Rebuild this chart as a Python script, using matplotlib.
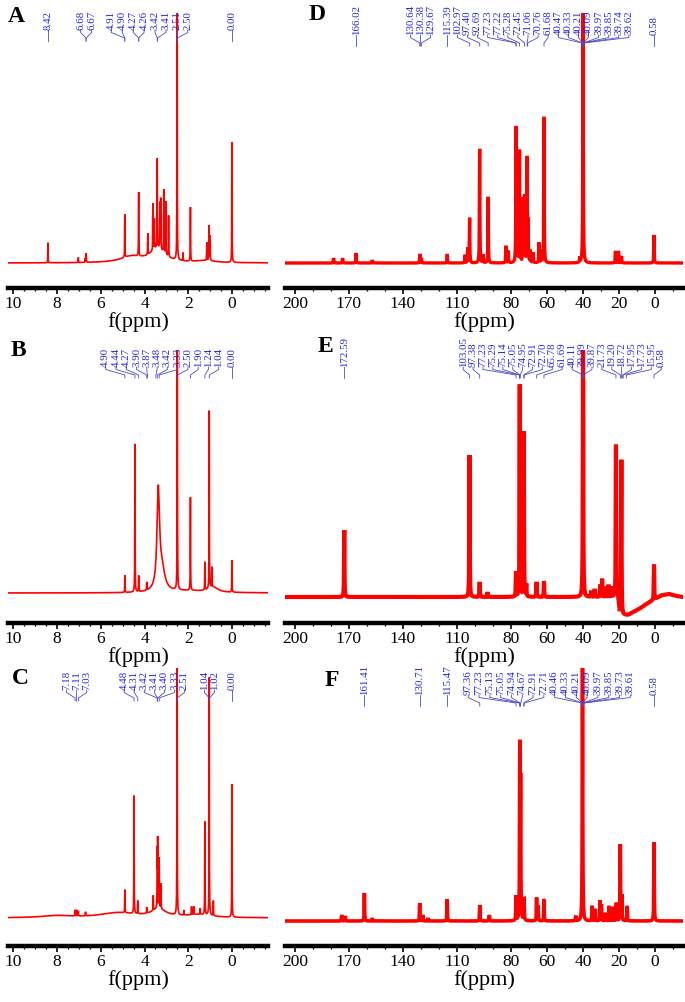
import matplotlib
matplotlib.use("Agg")
import matplotlib.pyplot as plt
import numpy as np
from matplotlib.ticker import FixedLocator, MultipleLocator
from matplotlib.transforms import blended_transform_factory

plt.rcParams["font.family"] = ["Liberation Serif", "Noto Sans CJK SC"]

W, H = 685, 1002

# ---------------- A : 1H ----------------
a_peak_ppm = [8.42, 7.03, 6.72, 6.67, 4.905, 4.27, 3.85, 3.62, 3.55, 3.42, 3.30, 3.26,
              3.12, 3.03, 2.90, 2.51, 2.24, 1.90, 1.15, 1.05, 1.00, 0.00]
a_peak_int = [20, 5, 4, 9, 43, 64, 21, 47, 30, 89, 45, 50, 63, 53, 41, 300, 8, 54, 18, 35, 25, 120]
a_broad_ppm = [4.6, 3.4, 1.2]
a_broad_int = [6, 14, 2]
a_broad_hw = [0.6, 0.4, 0.5]
a_labels = ["8.42", "6.68", "6.67", "4.91", "4.90", "4.27", "4.26", "3.42", "3.41",
            "2.51", "2.50", "0.00"]

# ---------------- B : 1H ----------------
b_peak_ppm = [4.90, 4.44, 4.27, 3.90, 2.50, 1.90, 1.24, 1.04, 0.92, 0.00]
b_peak_int = [17, 148, 16, 8, 300, 93, 28, 178, 20, 32]
b_broad_ppm = [3.37, 3.20, 0.85, 2.0]
b_broad_int = [98, 20, 5, 2]
b_broad_hw = [0.07, 0.16, 0.25, 1.0]
b_labels = ["4.90", "4.44", "4.27", "3.90", "3.87", "3.48", "3.42", "3.33", "2.50",
            "1.90", "1.24", "1.04", "0.00"]

# ---------------- C : 1H ----------------
c_peak_ppm = [7.18, 7.11, 7.03, 6.70, 4.90, 4.48, 4.31, 3.90, 3.60, 3.42, 3.40, 3.33, 3.25,
              2.51, 2.20, 1.85, 1.75, 1.45, 1.24, 1.04, 0.85, 0.00]
c_peak_int = [6, 6, 5, 4, 23, 118, 13, 6, 15, 55, 66, 50, 25, 300, 5, 8, 8, 6, 93, 238, 15, 133]
c_broad_ppm = [8.0, 5.2, 3.35, 1.5]
c_broad_int = [2, 5, 8, 3]
c_broad_hw = [0.8, 1.0, 0.4, 0.7]
c_labels = ["7.18", "7.11", "7.03", "4.48", "4.31", "3.42", "3.41", "3.40", "3.33",
            "2.51", "1.04", "1.02", "0.00"]

# ---------------- D : 13C ----------------
d_peak_ppm = [178.5, 173.5, 166.02, 157.0, 130.6, 129.7, 115.39, 105.5, 104.0, 102.97,
              97.40, 95.5, 92.69, 82.8, 81.5, 77.23, 76.4, 75.28, 73.3, 72.45, 71.06, 70.5,
              69.3, 67.7, 64.5, 63.3, 61.68, 41.8, 40.0, 22.0, 20.3, 18.6, 0.58]
d_peak_int = [5, 5, 10, 3, 9, 5, 9, 8, 15, 45, 114, 8, 66, 17, 12, 136, 15, 112, 63, 66,
              104, 40, 12, 10, 20, 12, 146, 5, 300, 12, 12, 7, 28]
d_labels = ["166.02", "130.64", "130.38", "129.67", "115.39", "102.97", "97.40", "92.69",
            "77.23", "77.22", "75.28", "72.45", "71.06", "70.76", "61.68", "40.47", "40.33",
            "40.21", "40.09", "39.97", "39.85", "39.74", "39.62", "0.58"]

# ---------------- E : 13C ----------------
e_peak_ppm = [172.59, 103.05, 97.38, 93.0, 77.23, 75.14, 72.91, 71.5, 65.78, 61.69, 40.0,
              35.5, 33.5, 30.5, 29.4, 27.5, 25.8, 24.0, 21.73, 18.72, 0.58]
e_peak_int = [67, 142, 15, 5, 25, 212, 165, 12, 15, 16, 300, 6, 8, 12, 18, 10, 12, 10,
              152, 155, 35]
e_base_ppm = [-15.5, -12, -8, -4, 0, 4, 8, 12, 15, 19.6, 20.5, 205.5]
e_base_off = [0, 1, 3, 2, -2, -6, -11, -15, -18, -18, 0, 0]
e_labels = ["172.59", "103.05", "97.38", "77.23", "75.29", "75.14", "75.05", "74.95",
            "72.91", "72.70", "65.78", "61.69", "40.11", "39.99", "39.87", "21.73", "19.20",
            "18.72", "17.95", "17.73", "15.95", "0.58"]

# ---------------- F : 13C ----------------
f_peak_ppm = [174.0, 172.0, 161.41, 157.0, 130.71, 129.0, 126.0, 115.47, 97.36, 92.0,
              77.23, 75.13, 74.67, 72.91, 72.71, 65.8, 65.0, 61.7, 44.0, 40.3, 35.0, 33.2,
              30.5, 29.8, 27.5, 25.5, 23.5, 21.5, 19.3, 18.5, 15.5, 0.58]
f_peak_int = [6, 5, 28, 3, 18, 6, 3, 22, 16, 6, 25, 171, 135, 18, 14, 23, 15, 22, 5, 300,
              15, 12, 20, 16, 8, 15, 14, 18, 76, 25, 15, 79]
f_labels = ["161.41", "130.71", "115.47", "97.36", "77.23", "75.13", "75.05", "74.94",
            "74.67", "72.91", "72.71", "40.46", "40.33", "40.21", "40.09", "39.97", "39.85",
            "39.73", "39.61", "0.58"]

H_TICKS = [10, 8, 6, 4, 2, 0]
C_TICKS = [200, 170, 140, 110, 80, 60, 40, 20, 0]


def lorentz(x, ppm, inten, hw):
    p = np.asarray(ppm, float)[None, :]
    h = np.asarray(inten, float)[None, :]
    w = np.broadcast_to(np.asarray(hw, float), p.shape[1:])[None, :]
    return (h / (1.0 + ((x[:, None] - p) / w) ** 2)).sum(axis=1)


def spread(values, gap):
    # labels run left -> right with decreasing ppm
    t = -np.asarray(values, float)
    order = np.argsort(t, kind="stable")
    ts = t[order]
    clusters = [[i] for i in range(len(ts))]

    def start(c):
        return ts[c].mean() - gap * (len(c) - 1) / 2

    merged = True
    while merged:
        merged = False
        for k in range(len(clusters) - 1):
            if start(clusters[k]) + gap * len(clusters[k]) > start(clusters[k + 1]):
                clusters[k] = clusters[k] + clusters[k + 1]
                del clusters[k + 1]
                merged = True
                break
    pos = np.empty_like(ts)
    for c in clusters:
        s = start(c)
        for j, i in enumerate(c):
            pos[i] = s + j * gap
    out = np.empty_like(pos)
    out[order] = pos
    return -out


fig = plt.figure(figsize=(W / 100, H / 100), dpi=100)


def panel(x0, x1, top, bar, base, xlim, ticks, minor, y, lw, labels, label_base, gap,
          letter, letter_xy, x):
    ax = fig.add_axes([x0 / W, 1 - bar / H, (x1 - x0) / W, (bar - top) / H])
    ax.set_facecolor("none")
    ax.plot(x, y, color="#ff0000", lw=lw, solid_joinstyle="miter")
    ax.set_xlim(*xlim)
    ax.set_ylim(base - bar, base - top)
    for s in ("top", "left", "right"):
        ax.spines[s].set_visible(False)
    ax.spines["bottom"].set_linewidth(3.2)
    ax.set_yticks([])
    ax.xaxis.set_major_locator(FixedLocator(ticks))
    ax.xaxis.set_minor_locator(MultipleLocator(minor))
    ax.tick_params(axis="x", which="major", length=4, width=1.2, pad=2, labelsize=12.5)
    ax.tick_params(axis="x", which="minor", length=2.5, width=0.9)
    ax.set_xlabel("f(ppm)", fontsize=16, labelpad=0)

    blend = blended_transform_factory(ax.transData, fig.transFigure)

    def yf(px):
        return 1 - px / H

    for lab, xl in zip(labels, spread([float(v) for v in labels], gap)):
        xp = float(lab)
        ax.text(xl, yf(label_base), lab, rotation=90, ha="center", va="bottom",
                transform=blend, fontsize=7.8, color="#2323e0", clip_on=False)
        ax.plot([xl, xl, xp, xp],
                [yf(label_base), yf(label_base + 2.5), yf(label_base + 8), yf(label_base + 11)],
                transform=blend, color="#4b4bc8", lw=0.6, clip_on=False)

    fig.text(letter_xy[0] / W, 1 - letter_xy[1] / H, letter, fontsize=17, fontweight="bold",
             ha="center", va="center")
    return ax


xh = np.linspace(-1.8, 10.4, 24000)
xc = np.linspace(-16, 206, 40000)

ya = lorentz(xh, a_peak_ppm, a_peak_int, 0.007) + lorentz(xh, a_broad_ppm, a_broad_int, a_broad_hw)
yb = lorentz(xh, b_peak_ppm, b_peak_int, 0.007) + lorentz(xh, b_broad_ppm, b_broad_int, b_broad_hw)
yc = lorentz(xh, c_peak_ppm, c_peak_int, 0.007) + lorentz(xh, c_broad_ppm, c_broad_int, c_broad_hw)
yd = lorentz(xc, d_peak_ppm, d_peak_int, 0.13)
ye = lorentz(xc, e_peak_ppm, e_peak_int, 0.13) + np.interp(xc, e_base_ppm, e_base_off)
yff = lorentz(xc, f_peak_ppm, f_peak_int, 0.13)

LX = (8, 268)
RX = (285, 683)
HLIM = (10.25, -1.65)
CLIM = (205.5, -15.5)

panel(*LX, 13, 288, 263, HLIM, H_TICKS, 0.5, ya, 1.2, a_labels, 30, 0.5, "A", (16, 16), xh)
panel(*LX, 350, 623, 593, HLIM, H_TICKS, 0.5, yb, 1.2, b_labels, 367, 0.47, "B", (18, 350), xh)
panel(*LX, 668, 946, 918, HLIM, H_TICKS, 0.5, yc, 1.2, c_labels, 690, 0.46, "C", (20, 678), xh)
panel(*RX, 13, 288, 263, CLIM, C_TICKS, 10, yd, 2.4, d_labels, 35, 5.6, "D", (317, 15), xc)
panel(*RX, 350, 623, 597, CLIM, C_TICKS, 10, ye, 3.0, e_labels, 367, 5.5, "E", (325, 347), xc)
panel(*RX, 668, 946, 921, CLIM, C_TICKS, 10, yff, 2.6, f_labels, 695, 6.0, "F", (332, 680), xc)

fig.savefig("out.png", dpi=100)
